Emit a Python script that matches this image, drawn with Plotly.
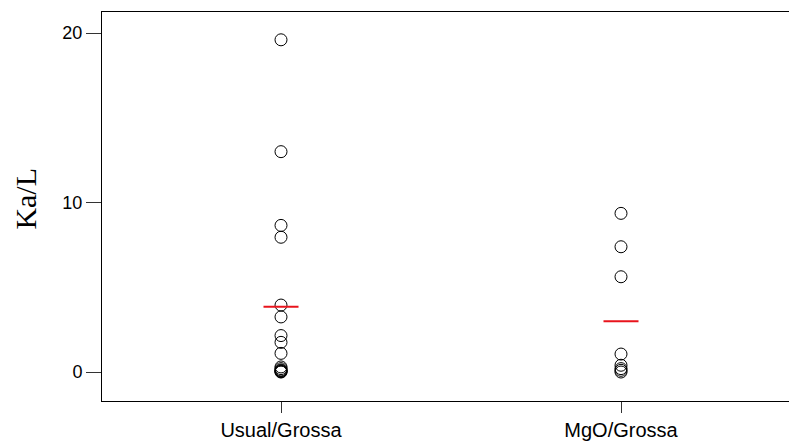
import plotly.graph_objects as go

categories = ["Usual/Grossa", "MgO/Grossa"]
usual_values = [19.6, 13.0, 8.65, 7.95, 3.95, 3.25, 2.15, 1.75, 1.1, 0.3, 0.2, 0.12, 0.08, 0.05, 0.02, 0.0]
mgo_values = [9.36, 7.39, 5.62, 1.06, 0.4, 0.2, 0.1, 0.0]
group_means = [3.85, 3.0]
y_ticks = [0, 10, 20]

fig = go.Figure()
for i, vals in enumerate([usual_values, mgo_values]):
    fig.add_trace(go.Scatter(
        x=[i] * len(vals), y=vals, mode="markers",
        marker=dict(symbol="circle-open", size=12, color="black", line=dict(width=1, color="black")),
        showlegend=False, hoverinfo="y"))

fig.add_trace(go.Scatter(
    x=list(range(len(categories))), y=group_means, mode="markers",
    marker=dict(symbol="line-ew", size=25, line=dict(width=2, color="#e8141c")),
    showlegend=False))

fig.update_layout(
    width=800, height=442,
    margin=dict(l=102, r=0, t=12, b=41),
    plot_bgcolor="white", paper_bgcolor="white",
    font=dict(family="Arial, Liberation Sans, sans-serif", color="black"),
    xaxis=dict(range=[-0.5265, 1.5265], tickvals=list(range(len(categories))), ticktext=categories,
               showgrid=False, zeroline=False, showline=True, mirror=True, linecolor="black", linewidth=1,
               ticks="outside", ticklen=11, tickcolor="#333", tickwidth=1,
               tickfont=dict(size=20, family="Arial, Liberation Sans, sans-serif")),
    yaxis=dict(range=[-1.71, 21.24], tickvals=y_ticks, showgrid=False, zeroline=False,
               showline=True, mirror=False, linecolor="black", linewidth=1,
               ticks="outside", ticklen=15, tickcolor="#333", tickwidth=1,
               tickfont=dict(size=18, family="Arial, Liberation Sans, sans-serif")),
    annotations=[dict(text="Ka/L", xref="paper", yref="paper", x=(25.5 - 102) / 698, y=0.519,
                      xanchor="center", yanchor="middle", textangle=-90, showarrow=False,
                      font=dict(size=30, family="Times New Roman, Liberation Serif, serif", color="black"))],
)

fig.write_html("out.html", config={"displayModeBar": False},
               post_script="document.documentElement.style.overflow='hidden';document.body.style.margin='0';document.body.style.overflow='hidden';")
